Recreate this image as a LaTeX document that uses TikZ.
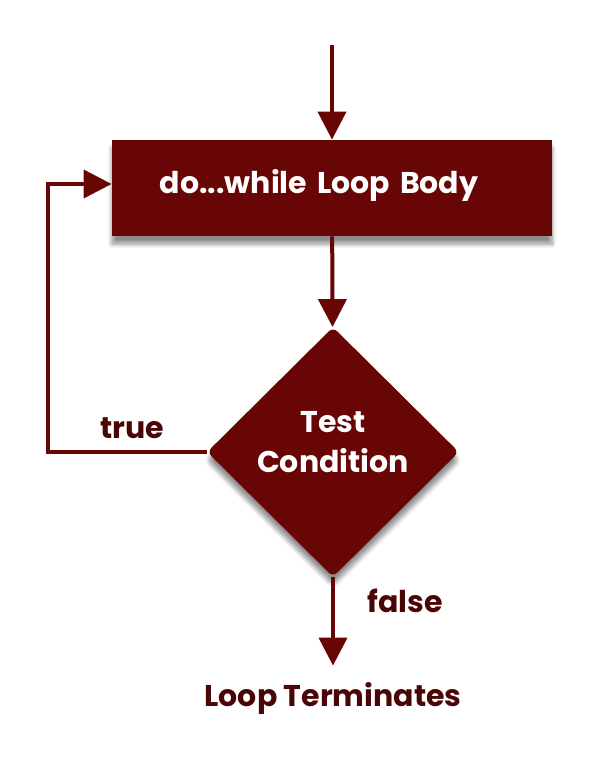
\documentclass[tikz,border=0pt]{standalone}
\usepackage{fontspec}
\setmainfont{Poppins}
\usetikzlibrary{arrows.meta,shapes.geometric,shadows.blur}
\definecolor{loopred}{HTML}{680505}
\definecolor{labelred}{HTML}{4A0606}
\begin{document}
\begin{tikzpicture}[x=0.5pt, y=-0.5pt,
    flow/.style={draw=loopred, line width=2pt, -{Triangle[width=14pt,length=14pt]}},
    bodybox/.style={fill=loopred, minimum width=220pt, minimum height=48pt,
      inner xsep=0pt, text width=220pt, align=left, text height=11pt, text depth=6pt,
      text=white, font=\bfseries\fontsize{15}{18}\selectfont,
      blur shadow={shadow xshift=0pt, shadow yshift=-4pt, shadow blur steps=8, shadow opacity=45}},
    testbox/.style={diamond, fill=loopred, minimum width=126pt, minimum height=125pt,
      aspect=1, inner sep=0pt, rounded corners=3pt, text=white, align=center,
      text depth=10pt, font=\bfseries\fontsize{15}{20}\selectfont,
      blur shadow={shadow xshift=0pt, shadow yshift=-4pt, shadow blur steps=8, shadow opacity=45}},
    lbl/.style={text=labelred, font=\bfseries\fontsize{15}{18}\selectfont}]

    \useasboundingbox (0,0) rectangle (600,766);

    % Loop body and test
    \coordinate (start) at (332,45);
    \node[bodybox] (body) at (332,188) {\hspace*{24pt}do...while Loop Body};
    \node[testbox] (cond) at (333,452) {Test\\Condition};

    % Labels
    \node[lbl] (truelbl) at (132,428) {true};
    \node[lbl] (falselbl) at (405,601) {false};
    \node[lbl, inner sep=8pt] (endlbl) at (333,698) {Loop Terminates};

    % Connectors
    \coordinate (loopleft) at (48,452);
    \draw[flow] (start) -- (body);
    \draw[flow] (body) -- (cond);
    \draw[flow] (cond.west) -- (loopleft) |- ([yshift=2pt]body.west);
    \draw[flow] (cond.south) -- (endlbl.north);

\end{tikzpicture}
\end{document}
